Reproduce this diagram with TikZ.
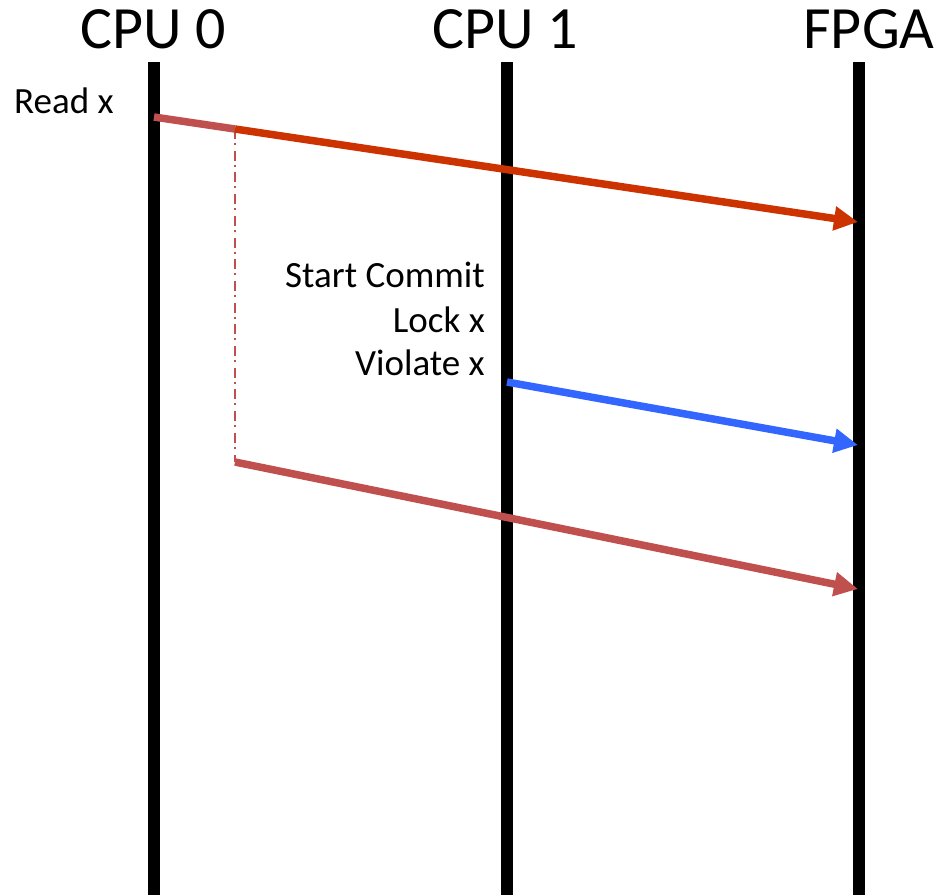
\documentclass[tikz,border=0pt]{standalone}
\usepackage{fontspec}
\setmainfont{Carlito}
\usetikzlibrary{arrows.meta}

\definecolor{brick}{HTML}{C0504D}
\definecolor{rust}{HTML}{CC3300}
\definecolor{msgblue}{HTML}{3366FF}

\tikzset{
  lifeline/.style={line width=12pt, black},
  title/.style={font=\fontsize{60}{64}\selectfont, anchor=base, inner sep=0pt},
  evlabel/.style={font=\fontsize{37}{44}\selectfont, inner sep=0pt},
  msg/.style={line width=7.5pt, -{Triangle[length=24pt,width=23pt]}},
  seg/.style={line width=7.5pt},
  wait/.style={line width=2.2pt, brick, dash pattern=on 10pt off 4pt on 2pt off 5.7pt}
}

\begin{document}
\begin{tikzpicture}[x=1pt, y=-1pt]
  \useasboundingbox (0,0) rectangle (941,895);

  % column headings
  \node[title] (cpu0) at (153,48) {CPU 0};
  \node[title] (cpu1) at (505,48) {CPU 1};
  \node[title] (fpga) at (869,48) {FPGA};

  % lifeline end points
  \coordinate (c0top) at (154,62);  \coordinate (c0bot) at (154,895);
  \coordinate (c1top) at (507,62);  \coordinate (c1bot) at (507,895);
  \coordinate (fgtop) at (859,62);  \coordinate (fgbot) at (859,895);

  \draw[lifeline] (c0top) -- (c0bot);
  \draw[lifeline] (c1top) -- (c1bot);
  \draw[lifeline] (fgtop) -- (fgbot);

  % event labels
  \node[evlabel, anchor=base west] (readx) at (14,113) {Read x};
  \node[evlabel, anchor=base east] (start) at (485,287) {Start Commit};
  \node[evlabel, anchor=base east] (lock) at (485,332) {Lock x};
  \node[evlabel, anchor=base east] (viol) at (485,375) {Violate x};

  % message end points
  \coordinate (rd0) at (154,117);
  \coordinate (rd1) at (235,129);
  \coordinate (rd2) at (858,222);
  \coordinate (vx0) at (507,382);
  \coordinate (vx1) at (858,445);
  \coordinate (re0) at (235,462);
  \coordinate (re1) at (858,589);

  % waiting interval on CPU 0
  \draw[wait] (rd1) -- (re0);

  % messages
  \draw[seg, brick] (rd0) -- (rd1);
  \draw[msg, rust] (rd1) -- (rd2);
  \draw[msg, msgblue] (vx0) -- (vx1);
  \draw[msg, brick] (re0) -- (re1);
\end{tikzpicture}
\end{document}
